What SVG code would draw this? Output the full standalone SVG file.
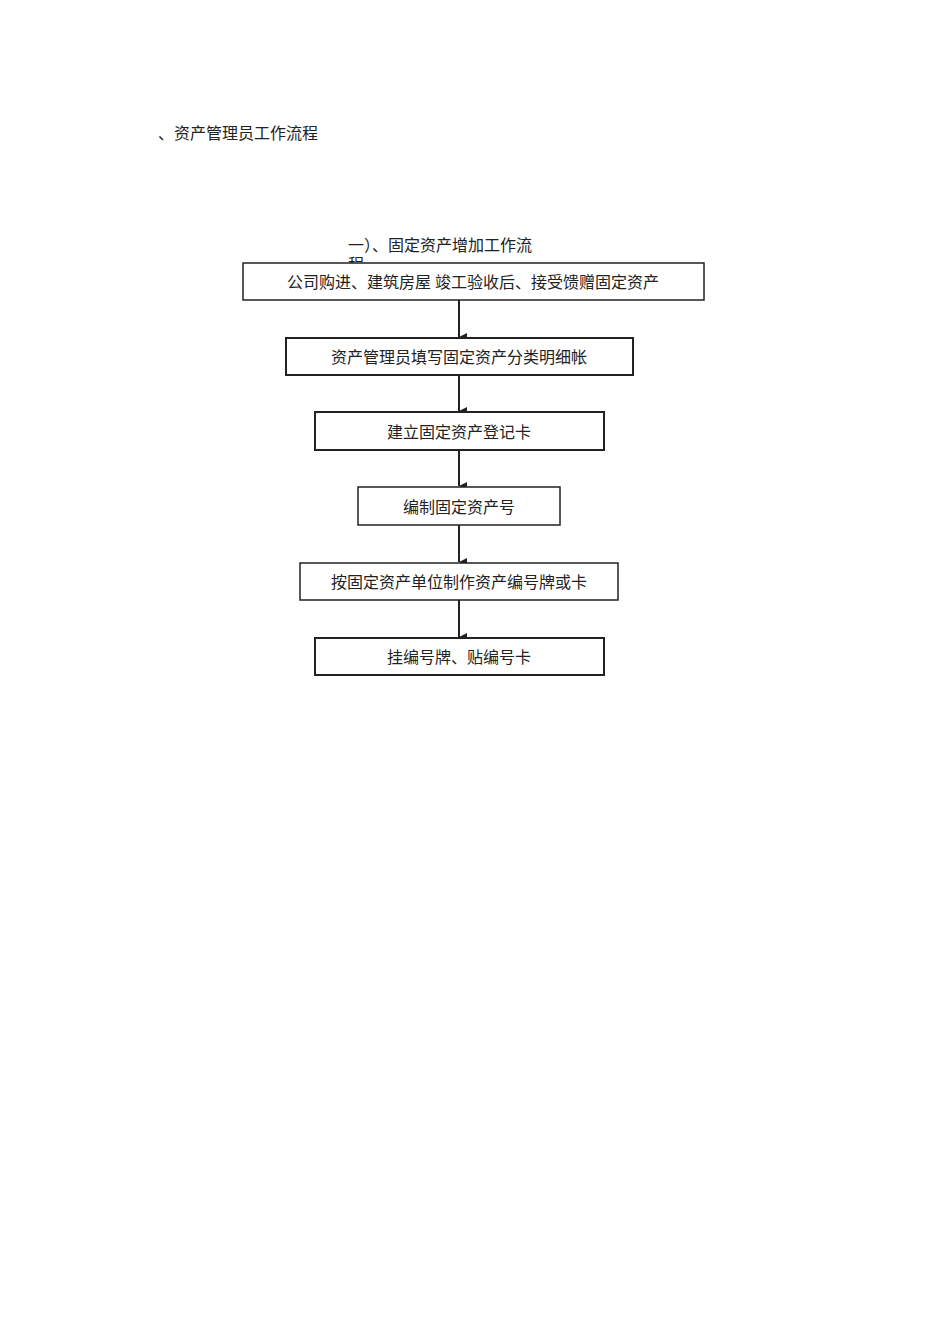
<svg xmlns="http://www.w3.org/2000/svg" width="950" height="1344" viewBox="0 0 950 1344">
<style>
text{font-family:"Liberation Serif","Noto Sans CJK SC",serif;font-size:16px;fill:#222}
.b{fill:#fff;stroke:#222;stroke-width:1.5}
.c{stroke:#222;stroke-width:2}
</style>
<defs><marker id="a" markerWidth="8" markerHeight="8" refX="4" refY="8" orient="auto" markerUnits="userSpaceOnUse"><path d="M0,0L8,0L4,8Z" fill="#222"/></marker></defs>
<rect width="950" height="1344" fill="#fff"/>
<text x="158" y="139">、资产管理员工作流程</text>
<text x="348" y="251">一）、固定资产增加工作流</text>
<text x="348" y="270">程</text>
<g id="connectors">
<line class="c" x1="459" y1="300" x2="459" y2="337" marker-end="url(#a)"/>
<line class="c" x1="459" y1="375" x2="459" y2="411" marker-end="url(#a)"/>
<line class="c" x1="459" y1="450" x2="459" y2="486" marker-end="url(#a)"/>
<line class="c" x1="459" y1="525" x2="459" y2="562" marker-end="url(#a)"/>
<line class="c" x1="459" y1="600" x2="459" y2="637" marker-end="url(#a)"/>
</g>
<g id="n1"><rect class="b" x="243" y="263" width="461" height="37"/><text x="473" y="288" text-anchor="middle">公司购进、建筑房屋 竣工验收后、接受馈赠固定资产</text></g>
<g id="n2"><rect class="b" x="286" y="338" width="347" height="37" style="stroke-width:2"/><text x="459" y="363" text-anchor="middle">资产管理员填写固定资产分类明细帐</text></g>
<g id="n3"><rect class="b" x="315" y="412" width="289" height="38" style="stroke-width:2"/><text x="459" y="438" text-anchor="middle">建立固定资产登记卡</text></g>
<g id="n4"><rect class="b" x="358" y="487" width="202" height="38"/><text x="459" y="513" text-anchor="middle">编制固定资产号</text></g>
<g id="n5"><rect class="b" x="300" y="563" width="318" height="37"/><text x="459" y="588" text-anchor="middle">按固定资产单位制作资产编号牌或卡</text></g>
<g id="n6"><rect class="b" x="315" y="638" width="289" height="37" style="stroke-width:2"/><text x="459" y="663" text-anchor="middle">挂编号牌、贴编号卡</text></g>
</svg>
